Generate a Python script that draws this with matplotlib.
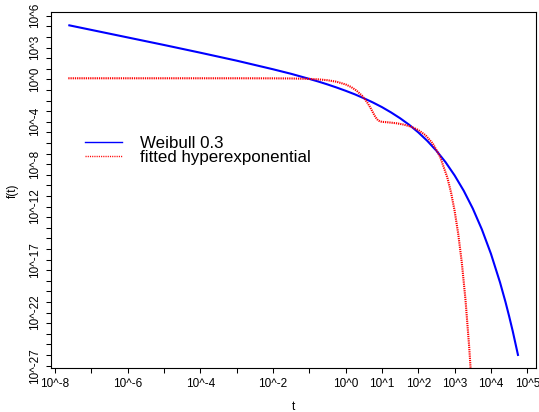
import matplotlib
matplotlib.use("Agg")
import matplotlib.pyplot as plt
from matplotlib.lines import Line2D

plt.rcParams['font.family'] = ['Liberation Sans', 'DejaVu Sans']

# log10(t) and log10(f(t))
log_t_weibull = [-7.634, -7, -6, -5, -4, -3, -2, -1.5, -1, -0.75, -0.5, -0.25, 0, 0.25,
                 0.5, 0.75, 1, 1.25, 1.5, 1.75, 2, 2.25, 2.5, 2.75, 3, 3.25, 3.5, 3.75,
                 4, 4.25, 4.4, 4.5, 4.6, 4.75]
log_f_weibull = [5.11, 4.66, 3.95, 3.24, 2.51, 1.76, 0.95, 0.52, 0.04, -0.21, -0.48, -0.77,
                 -1.08, -1.41, -1.78, -2.18, -2.62, -3.12, -3.67, -4.29, -5.00, -5.81, -6.74,
                 -7.81, -9.06, -10.50, -12.18, -14.15, -16.45, -19.15, -20.99, -22.33,
                 -23.75, -26.08]

log_t_hyper = [-7.634, -3, -2, -1.5, -1, -0.75, -0.5, -0.25, 0, 0.15, 0.3, 0.45, 0.55, 0.6,
               0.65, 0.7, 0.75, 0.8, 0.85, 0.9, 0.95, 1.0, 1.2, 1.4, 1.6, 1.8, 2.0, 2.2, 2.4,
               2.6, 2.8, 2.9, 3.0, 3.1, 3.2, 3.3, 3.4, 3.45]
log_f_hyper = [0.10, 0.10, 0.094, 0.082, 0.042, -0.004, -0.084, -0.227, -0.482, -0.722,
               -1.061, -1.54, -1.965, -2.217, -2.486, -2.786, -3.11, -3.43, -3.704, -3.883,
               -3.97, -4.007, -4.064, -4.143, -4.267, -4.464, -4.777, -5.272, -6.056, -7.30,
               -9.27, -10.65, -12.40, -14.59, -17.35, -20.82, -25.20, -27.79]

x_ticks = list(range(-8, 6))
x_tick_labels = ["10^-8", "", "10^-6", "", "10^-4", "", "10^-2", "", "10^0", "10^1",
                 "10^2", "10^3", "10^4", "10^5"]
y_ticks = list(range(6, -28, -1))
y_labelled = {6: "10^6", 3: "10^3", 0: "10^0", -4: "10^-4", -8: "10^-8",
              -12: "10^-12", -17: "10^-17", -22: "10^-22", -27: "10^-27"}
y_tick_labels = [y_labelled.get(v, "") for v in y_ticks]

series_names = ["Weibull 0.3", "fitted hyperexponential"]
colors = ["#0000FF", "#FF0000"]

W, H = 539, 412
fig = plt.figure(figsize=(W / 100, H / 100), dpi=100)
left, right, top, bottom = 50.5, 536.0, 12.3, 368.3
ax = fig.add_axes([left / W, 1 - bottom / H, (right - left) / W, (bottom - top) / H])

ax.plot(log_t_weibull, log_f_weibull, color=colors[0], lw=1.5, solid_capstyle="butt")
ax.plot(log_t_hyper, log_f_hyper, color=colors[1], lw=1.5, linestyle=(0, (0.6, 0.45)))

ax.set_xlim(-8.124, 5.24)
ax.set_ylim(-27.245, 6.32)

ax.set_xticks(x_ticks)
ax.set_xticklabels(x_tick_labels, fontsize=8.5)
ax.set_yticks(y_ticks)
ax.set_yticklabels(y_tick_labels, fontsize=8.5, rotation=90, va="center")
ax.tick_params(axis="both", direction="out", length=3.6, width=0.75, color="black")
ax.tick_params(axis="x", pad=3.3)
ax.tick_params(axis="y", pad=3.3)
for s in ax.spines.values():
    s.set_linewidth(0.8)
    s.set_color("black")

ax.set_xlabel("t", fontsize=8.5)
ax.xaxis.set_label_coords(0.5, -0.092)
ax.set_ylabel("f(t)", fontsize=8.5)
ax.yaxis.set_label_coords(-0.066, 0.5)

handles = [Line2D([0], [0], color=colors[0], lw=1.0),
           Line2D([0], [0], color=colors[1], lw=1.0, linestyle=(0, (0.8, 0.8)))]
leg = ax.legend(handles, series_names, loc="upper left",
                bbox_to_anchor=(85 / W, 1 - 135.5 / H), bbox_transform=fig.transFigure,
                frameon=False, fontsize=12.2, handlelength=2.16, handletextpad=1.06,
                labelspacing=-0.02, borderpad=0, borderaxespad=0)

fig.savefig("out.png", dpi=100)
